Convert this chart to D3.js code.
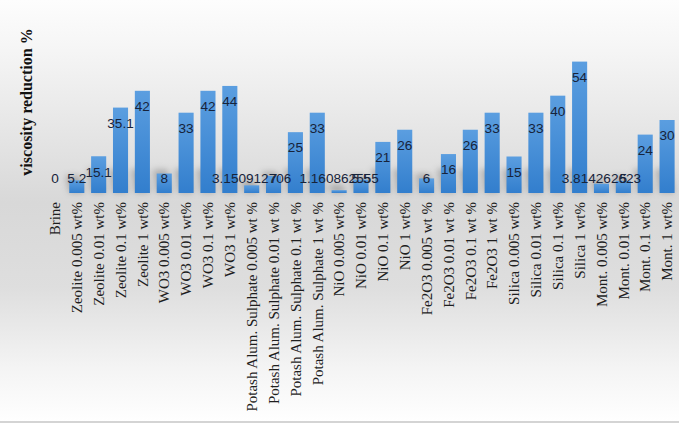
<!DOCTYPE html>
<html>
<head>
	<meta charset="utf-8">
	<title>Viscosity reduction</title>
	<script src="https://cdn.jsdelivr.net/npm/d3@7"></script>
	<style>
		body { margin: 0; background: #fff; }
		svg { display: block; }
	</style>
</head>
<body>
	<div id="chart"></div>
	<script>

		// data

		const categories = [
			"Brine",
			"Zeolite 0.005 wt%", "Zeolite 0.01 wt%", "Zeolite 0.1 wt%", "Zeolite 1 wt%",
			"WO3 0.005 wt%", "WO3 0.01 wt%", "WO3 0.1 wt%", "WO3 1 wt%",
			"Potash Alum. Sulphate 0.005 wt %", "Potash Alum. Sulphate 0.01 wt %",
			"Potash Alum. Sulphate 0.1 wt %", "Potash Alum. Sulphate 1 wt %",
			"NiO 0.005 wt%", "NiO 0.01 wt%", "NiO 0.1 wt%", "NiO 1 wt%",
			"Fe2O3 0.005 wt %", "Fe2O3 0.01 wt %", "Fe2O3 0.1 wt %", "Fe2O3 1 wt %",
			"Silica 0.005 wt%", "Silica 0.01 wt%", "Silica 0.1 wt%", "Silica 1 wt%",
			"Mont. 0.005 wt%", "Mont. 0.01 wt%", "Mont. 0.1 wt%", "Mont. 1 wt%"
		];
		const reduction = [
			0,
			5.2, 15.1, 35.1, 42,
			8, 33, 42, 44,
			3.150912706, 7, 25, 33,
			1.160862555, 5.5, 21, 26,
			6, 16, 26, 33,
			15, 33, 40, 54,
			3.814262623, 5, 24, 30
		];
		const yDomain = [0, 60];
		const yTitle = "viscosity reduction %";

		// layout

		const width = 679, height = 423;
		const margin = {top: 47, right: 1, bottom: 230, left: 44};

		const svg = d3.select("#chart").append("svg")
				.attr("width", width)
				.attr("height", height)
				.attr("viewBox", [0, 0, width, height]);

		const defs = svg.append("defs");

		const bg = defs.append("linearGradient")
				.attr("id", "bg")
				.attr("x1", 0).attr("y1", 0).attr("x2", 0).attr("y2", 1);
		bg.append("stop").attr("offset", "0%").attr("stop-color", "#fdfdfd");
		bg.append("stop").attr("offset", "12%").attr("stop-color", "#f5f5f5");
		bg.append("stop").attr("offset", "48%").attr("stop-color", "#d8d8d8");
		bg.append("stop").attr("offset", "68%").attr("stop-color", "#dedede");
		bg.append("stop").attr("offset", "88%").attr("stop-color", "#f5f5f5");
		bg.append("stop").attr("offset", "100%").attr("stop-color", "#ffffff");

		const barGrad = defs.append("linearGradient")
				.attr("id", "barGrad")
				.attr("x1", 0).attr("y1", 0).attr("x2", 0).attr("y2", 1);
		barGrad.append("stop").attr("offset", "0%").attr("stop-color", "#5b9ee0");
		barGrad.append("stop").attr("offset", "100%").attr("stop-color", "#327ecd");

		const blur = defs.append("filter")
				.attr("id", "blur")
				.attr("x", "-50%").attr("y", "-50%")
				.attr("width", "200%").attr("height", "200%");
		blur.append("feGaussianBlur").attr("stdDeviation", 3);

		svg.append("rect")
				.attr("width", width)
				.attr("height", height)
				.attr("fill", "url(#bg)");

		// bottom border of the chart area
		svg.append("rect")
				.attr("x", 0)
				.attr("y", height - 2)
				.attr("width", width)
				.attr("height", 2)
				.attr("fill", "#d4d4d4");

		const x = d3.scaleBand()
				.domain(categories)
				.range([margin.left, width - margin.right])
				.paddingInner(0.31)
				.paddingOuter(0.155);

		const y = d3.scaleLinear()
				.domain(yDomain)
				.range([height - margin.bottom, margin.top]);

		const rows = categories.map((c, i) => ({name: c, value: reduction[i]}));

		// soft perspective shadow cast from each bar's foot
		svg.append("g")
				.attr("filter", "url(#blur)")
			.selectAll("path")
			.data(rows.filter(d => d.value > 0))
			.join("path")
				.attr("d", d => {
					const x0 = x(d.name), x1 = x0 + x.bandwidth(), b = y(0);
					const h = Math.min((y(0) - y(d.value)) * 0.9 + 6, 24);
					return `M${x0},${b}L${x1},${b}L${x1 - 4},${b - h}L${x0 - 4},${b - h}Z`;
				})
				.attr("fill", "#000")
				.attr("opacity", 0.22);

		svg.append("g")
			.selectAll("rect")
			.data(rows)
			.join("rect")
				.attr("x", d => x(d.name))
				.attr("y", d => y(d.value))
				.attr("width", x.bandwidth())
				.attr("height", d => y(0) - y(d.value))
				.attr("fill", "url(#barGrad)");

		// data labels: inside end, pushed up when the bar is too short
		svg.append("g")
			.selectAll("text")
			.data(rows)
			.join("text")
				.attr("x", d => x(d.name) + x.bandwidth() / 2)
				.attr("y", d => Math.min(y(d.value) + 15.5, y(0) - 14.5))
				.attr("dy", "0.35em")
				.attr("text-anchor", "middle")
				.style("font-family", "'Liberation Sans', Arial, sans-serif")
				.style("font-size", "13.6px")
				.style("fill", "#17233a")
				.text(d => String(d.value));

		// category axis, no line or ticks
		const xAxis = svg.append("g")
				.attr("transform", `translate(0,${y(0) + 9})`)
				.call(d3.axisBottom(x).tickSize(0).tickPadding(0));
		xAxis.select(".domain").remove();
		xAxis.selectAll("text")
				.attr("transform", "rotate(-90)")
				.attr("x", 0)
				.attr("y", 0)
				.attr("dy", "0.35em")
				.attr("text-anchor", "end")
				.style("font-family", "'Liberation Serif', 'Times New Roman', serif")
				.style("font-size", "15px")
				.style("fill", "#1e1e1e");

		svg.append("text")
				.attr("transform", `translate(26,102) rotate(-90)`)
				.attr("dy", "0.35em")
				.attr("text-anchor", "middle")
				.style("font-family", "'Liberation Serif', 'Times New Roman', serif")
				.style("font-weight", "bold")
				.style("font-size", "16px")
				.style("fill", "#111")
				.text(yTitle);

	</script>
</body>
</html>
